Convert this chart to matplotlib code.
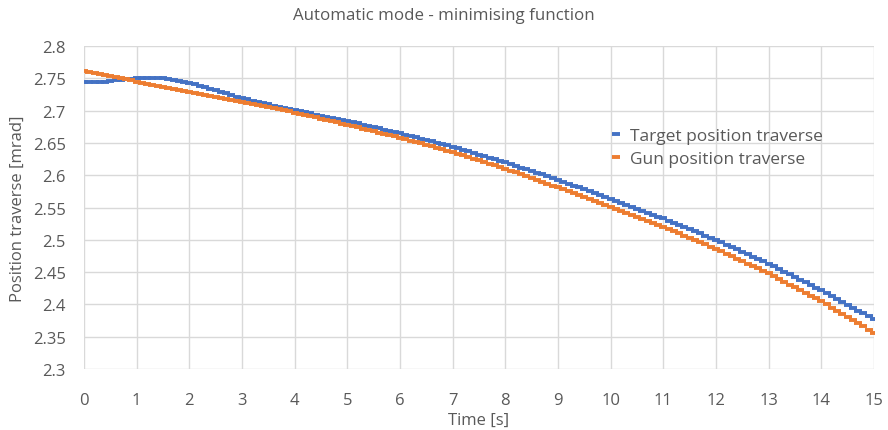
import numpy as np
import matplotlib
matplotlib.use("Agg")
import matplotlib.pyplot as plt

time_step = 0.1
target_traverse = [
    2.7440, 2.7440, 2.7441, 2.7444, 2.7450, 2.7458, 2.7467, 2.7476, 2.7485, 2.7493,
    2.7499, 2.7503, 2.7505, 2.7505, 2.7503, 2.7498, 2.7490, 2.7478, 2.7463, 2.7447,
    2.7430, 2.7409, 2.7386, 2.7362, 2.7338, 2.7314, 2.7290, 2.7266, 2.7242, 2.7218,
    2.7195, 2.7175, 2.7155, 2.7135, 2.7116, 2.7097, 2.7078, 2.7060, 2.7042, 2.7024,
    2.7006, 2.6989, 2.6973, 2.6956, 2.6939, 2.6922, 2.6906, 2.6889, 2.6873, 2.6856,
    2.6840, 2.6821, 2.6802, 2.6783, 2.6764, 2.6745, 2.6726, 2.6707, 2.6688, 2.6669,
    2.6650, 2.6629, 2.6608, 2.6587, 2.6566, 2.6545, 2.6524, 2.6503, 2.6482, 2.6461,
    2.6440, 2.6416, 2.6392, 2.6368, 2.6344, 2.6320, 2.6296, 2.6272, 2.6248, 2.6224,
    2.6200, 2.6173, 2.6146, 2.6119, 2.6092, 2.6065, 2.6038, 2.6011, 2.5984, 2.5957,
    2.5930, 2.5900, 2.5870, 2.5840, 2.5810, 2.5780, 2.5750, 2.5720, 2.5690, 2.5660,
    2.5630, 2.5600, 2.5570, 2.5540, 2.5510, 2.5480, 2.5450, 2.5420, 2.5390, 2.5360,
    2.5330, 2.5297, 2.5264, 2.5231, 2.5198, 2.5165, 2.5132, 2.5099, 2.5066, 2.5033,
    2.5000, 2.4963, 2.4926, 2.4889, 2.4852, 2.4815, 2.4778, 2.4741, 2.4704, 2.4667,
    2.4630, 2.4589, 2.4548, 2.4507, 2.4466, 2.4425, 2.4384, 2.4343, 2.4302, 2.4261,
    2.4220, 2.4175, 2.4130, 2.4085, 2.4040, 2.3995, 2.3950, 2.3905, 2.3860, 2.3815,
    2.3770,
]
gun_traverse = [
    2.7610, 2.7594, 2.7578, 2.7562, 2.7546, 2.7530, 2.7514, 2.7498, 2.7482, 2.7466,
    2.7450, 2.7434, 2.7418, 2.7402, 2.7386, 2.7370, 2.7354, 2.7338, 2.7322, 2.7306,
    2.7290, 2.7275, 2.7260, 2.7245, 2.7230, 2.7215, 2.7200, 2.7185, 2.7170, 2.7155,
    2.7140, 2.7123, 2.7106, 2.7089, 2.7072, 2.7055, 2.7038, 2.7021, 2.7004, 2.6987,
    2.6970, 2.6951, 2.6932, 2.6913, 2.6894, 2.6875, 2.6856, 2.6837, 2.6818, 2.6799,
    2.6780, 2.6760, 2.6740, 2.6720, 2.6700, 2.6680, 2.6660, 2.6640, 2.6620, 2.6600,
    2.6580, 2.6558, 2.6536, 2.6514, 2.6492, 2.6470, 2.6448, 2.6426, 2.6404, 2.6382,
    2.6360, 2.6334, 2.6308, 2.6282, 2.6256, 2.6230, 2.6204, 2.6178, 2.6152, 2.6126,
    2.6100, 2.6071, 2.6042, 2.6013, 2.5984, 2.5955, 2.5926, 2.5897, 2.5868, 2.5839,
    2.5810, 2.5780, 2.5750, 2.5720, 2.5690, 2.5660, 2.5630, 2.5600, 2.5570, 2.5540,
    2.5510, 2.5479, 2.5448, 2.5417, 2.5386, 2.5355, 2.5324, 2.5293, 2.5262, 2.5231,
    2.5200, 2.5166, 2.5132, 2.5098, 2.5064, 2.5030, 2.4996, 2.4962, 2.4928, 2.4894,
    2.4860, 2.4822, 2.4784, 2.4746, 2.4708, 2.4670, 2.4632, 2.4594, 2.4556, 2.4518,
    2.4480, 2.4437, 2.4394, 2.4351, 2.4308, 2.4265, 2.4222, 2.4179, 2.4136, 2.4093,
    2.4050, 2.4001, 2.3952, 2.3903, 2.3854, 2.3805, 2.3756, 2.3707, 2.3658, 2.3609,
    2.3560,
]
times = np.round(np.arange(len(gun_traverse)) * time_step, 2)

x_ticks = list(range(0, 16))
y_ticks = [2.3, 2.35, 2.4, 2.45, 2.5, 2.55, 2.6, 2.65, 2.7, 2.75, 2.8]
y_tick_labels = ["2.3", "2.35", "2.4", "2.45", "2.5", "2.55", "2.6", "2.65", "2.7", "2.75", "2.8"]

plt.rcParams['font.family'] = ['Open Sans', 'DejaVu Sans']
text_col = '#595959'

fig = plt.figure(figsize=(8.88, 4.31), dpi=100)
ax = fig.add_axes([84/888, 1 - 370/431, 790/888, 323/431])

ax.plot(times, target_traverse, linestyle='none', marker='_', ms=5.5, mew=2.8,
        color='#4472C4', label='Target position traverse', zorder=3)
ax.plot(times, gun_traverse, linestyle='none', marker='_', ms=5.5, mew=2.8,
        color='#ED7D31', label='Gun position traverse', zorder=4)

ax.set_xlim(0, 15)
ax.set_ylim(2.3, 2.8)
ax.set_xticks(x_ticks)
ax.set_yticks(y_ticks)
ax.set_yticklabels(y_tick_labels)
ax.grid(True, color='#d9d9d9', linewidth=1)
ax.set_axisbelow(True)
for s in ax.spines.values():
    s.set_visible(False)
ax.tick_params(axis='both', length=0, labelsize=12, colors=text_col)
ax.tick_params(axis='x', pad=16.5)
ax.tick_params(axis='y', pad=13)

ax.set_xlabel('Time [s]', fontsize=12, color=text_col, labelpad=3)
ax.set_ylabel('Position traverse [mrad]', fontsize=12, color=text_col, labelpad=5)
fig.text(0.5, 1 - 16/431, 'Automatic mode - minimising function', ha='center', va='center',
         fontsize=12.2, color=text_col)

leg = ax.legend(loc='center left', bbox_to_anchor=(0.648, 0.685), frameon=False,
                fontsize=12.5, handlelength=0.5, handletextpad=0.55, labelspacing=0.4,
                labelcolor=text_col)

fig.savefig('out.png', dpi=100)
